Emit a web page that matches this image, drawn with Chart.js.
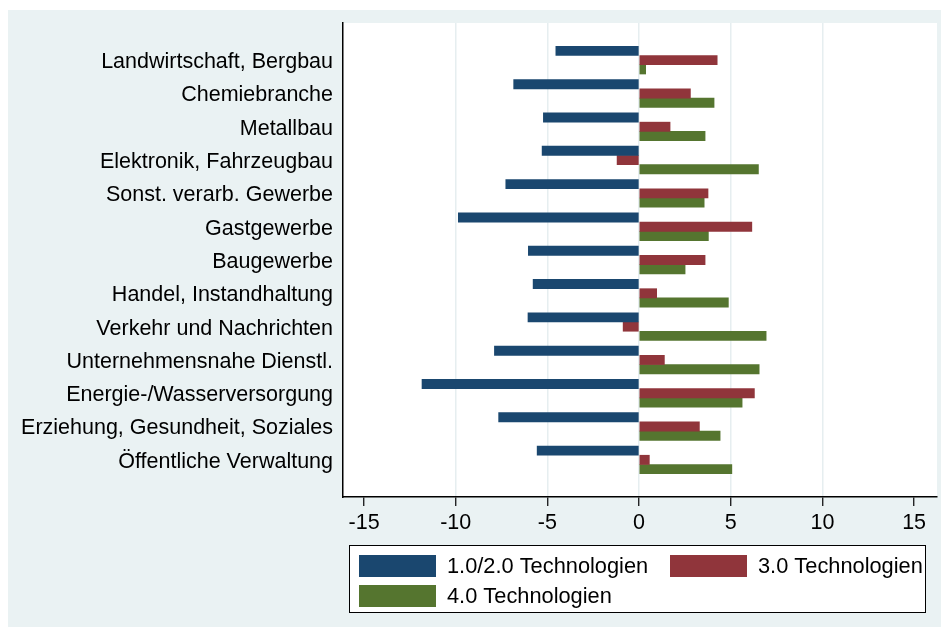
<!DOCTYPE html>
<html><head><meta charset="utf-8">
<script src="https://cdn.jsdelivr.net/npm/chart.js@4/dist/chart.umd.min.js"></script>
<style>html,body{margin:0;padding:0;background:#fff;}#wrap{width:941px;height:627px;position:relative;}</style>
</head><body><div id="wrap"><canvas id="c" width="941" height="627"></canvas></div>
<script>
const categories = [
  'Landwirtschaft, Bergbau',
  'Chemiebranche',
  'Metallbau',
  'Elektronik, Fahrzeugbau',
  'Sonst. verarb. Gewerbe',
  'Gastgewerbe',
  'Baugewerbe',
  'Handel, Instandhaltung',
  'Verkehr und Nachrichten',
  'Unternehmensnahe Dienstl.',
  'Energie-/Wasserversorgung',
  'Erziehung, Gesundheit, Soziales',
  'Öffentliche Verwaltung'
];
const tech12 = [-4.54, -6.84, -5.22, -5.29, -7.27, -9.86, -6.04, -5.78, -6.06, -7.89, -11.84, -7.66, -5.56];
const tech30 = [4.26, 2.80, 1.69, -1.20, 3.76, 6.15, 3.60, 0.96, -0.87, 1.38, 6.29, 3.29, 0.56];
const tech40 = [0.36, 4.09, 3.60, 6.51, 3.55, 3.78, 2.51, 4.87, 6.93, 6.55, 5.62, 4.42, 5.06];
const xTicks = [-15, -10, -5, 0, 5, 10, 15];
const seriesNames = ['1.0/2.0 Technologien', '3.0 Technologien', '4.0 Technologien'];
const seriesColors = ['#1a476f', '#90353b', '#55752f'];

const FONT = {family: "'Liberation Sans', Arial, sans-serif", size: 21.5};
const toPoints = arr => arr.map((v, i) => ({x: v, y: i}));

const bgPlugin = {
  id: 'bg',
  beforeDraw(chart) {
    const {ctx, chartArea: a} = chart;
    ctx.save();
    ctx.fillStyle = '#ffffff';
    ctx.fillRect(0, 0, chart.width, chart.height);
    ctx.fillStyle = '#eaf2f3';
    ctx.fillRect(8, 10, chart.width - 8, chart.height - 10);
    ctx.fillStyle = '#ffffff';
    ctx.fillRect(a.left, a.top, a.right - a.left, a.bottom - a.top);
    ctx.restore();
  }
};

const legendPlugin = {
  id: 'boxLegend',
  afterDraw(chart) {
    const {ctx} = chart;
    ctx.save();
    ctx.fillStyle = '#ffffff';
    ctx.fillRect(349, 545, 576, 67);
    ctx.strokeStyle = '#000';
    ctx.lineWidth = 1;
    ctx.strokeRect(349.5, 545.5, 576, 67);
    const slots = [{x: 359, y: 555}, {x: 670, y: 555}, {x: 359, y: 585}];
    ctx.font = '21.8px ' + FONT.family;
    ctx.textBaseline = 'middle';
    ctx.textAlign = 'left';
    chart.data.datasets.forEach((ds, i) => {
      const s = slots[i];
      ctx.fillStyle = ds.backgroundColor;
      ctx.fillRect(s.x, s.y, 77, 22);
      ctx.fillStyle = '#000';
      ctx.fillText(ds.label, s.x + 88, s.y + 12);
    });
    ctx.restore();
  }
};

new Chart(document.getElementById('c'), {
  type: 'bar',
  data: {
    datasets: [
      {label: seriesNames[0], data: toPoints(tech12), backgroundColor: seriesColors[0]},
      {label: seriesNames[1], data: toPoints(tech30), backgroundColor: seriesColors[1]},
      {label: seriesNames[2], data: toPoints(tech40), backgroundColor: seriesColors[2]}
    ]
  },
  options: {
    indexAxis: 'y',
    responsive: false,
    animation: false,
    barThickness: 9.25,
    layout: {padding: {top: 23, right: 4, left: 0, bottom: 0}},
    plugins: {legend: {display: false}, tooltip: {enabled: false}},
    scales: {
      x: {
        type: 'linear',
        offset: false,
        min: -16.15, max: 16.25,
        afterBuildTicks: s => { s.ticks = xTicks.map(v => ({value: v})); },
        afterFit: s => { s.height = 130; },
        ticks: {color: '#000', font: FONT, padding: 4, maxRotation: 0, autoSkip: false},
        grid: {
          color: c => (Math.abs(c.tick.value) === 15 ? 'rgba(0,0,0,0)' : '#e6eef0'),
          lineWidth: 1.5,
          tickColor: '#000', tickLength: 9, tickWidth: 1.2, drawOnChartArea: true
        },
        border: {display: true, color: '#000', width: 1.5}
      },
      y: {
        type: 'linear',
        offset: false,
        reverse: true,
        min: -1.115, max: 13.115,
        afterBuildTicks: s => { s.ticks = categories.map((_, i) => ({value: i})); },
        afterFit: s => { s.width = 343; },
        ticks: {color: '#000', font: FONT, padding: 10, labelOffset: 2, autoSkip: false,
          callback: v => categories[v] ?? ''},
        grid: {display: false, drawTicks: false},
        border: {display: true, color: '#000', width: 1.5}
      }
    }
  },
  plugins: [bgPlugin, legendPlugin]
});
</script></body></html>
